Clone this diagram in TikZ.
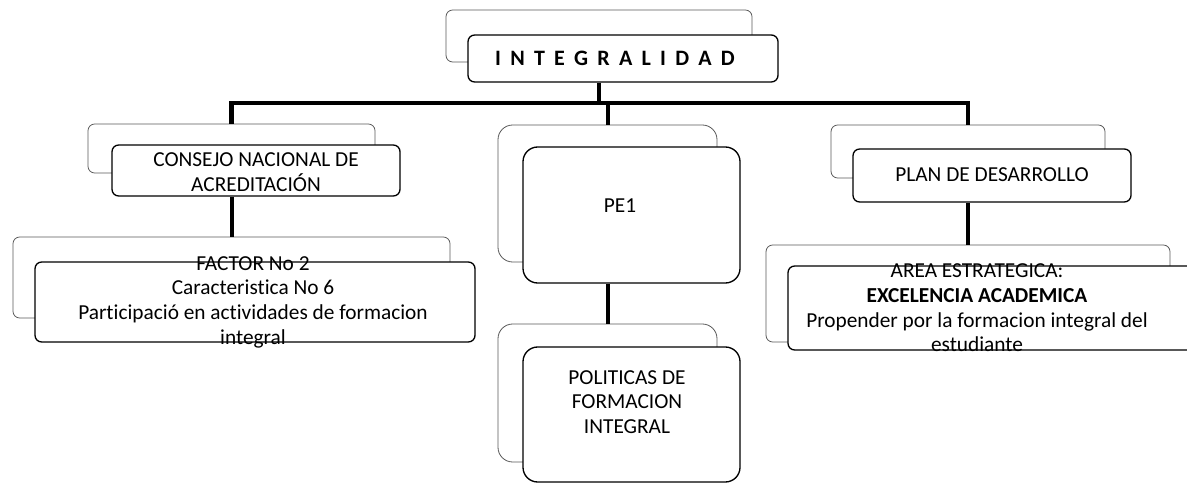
\documentclass[tikz,border=0pt]{standalone}
\usepackage{fontspec}
\setmainfont{Carlito}[Ligatures=NoCommon]
\usetikzlibrary{fit}
\newcommand\lsp{\hskip0.42em}
\begin{document}
\begin{tikzpicture}[x=0.75pt,y=-0.75pt,
  backbox/.style={draw=black!65, line width=0.6pt, fill=white, rounded corners=5pt, inner sep=0pt},
  frontbox/.style={draw=black, line width=1pt, fill=white, rounded corners=5pt, inner sep=0pt},
  bigr/.style={rounded corners=11pt},
  txt/.style={align=center, inner sep=0pt, font=\fontsize{16}{18.5}\selectfont},
  conn/.style={line width=3pt},
  barline/.style={line width=3.6pt}]
\useasboundingbox (0,0) rectangle (1187,484);

% top
\node[backbox, fit={(446,10)(752,62)}] (tb) {};
\node[frontbox, fit={(468,35)(778,82)}] (tf) {};
\node[txt, font=\fontsize{16.5}{18.5}\selectfont\bfseries] (tt) at (615,58) {I\lsp N\lsp T\lsp E\lsp G\lsp R\lsp A\lsp L\lsp I\lsp D\lsp A\lsp D};

% CONSEJO
\node[backbox, fit={(88,124)(375,173)}] (cb) {};
\node[frontbox, fit={(112,145)(400,196)}] (cf) {};
\node[txt] (ct) at (256,172) {CONSEJO NACIONAL DE\\ACREDITACIÓN};

% PE1
\node[backbox, bigr, fit={(498,125)(717,262)}] (pb) {};
\node[frontbox, bigr, fit={(523,147)(740,283)}] (pf) {};
\node[txt] (pt) at (620,206) {PE1};

% PLAN
\node[backbox, fit={(831,125)(1105,178)}] (lb) {};
\node[frontbox, fit={(853,149)(1131,202)}] (lf) {};
\node[txt] (lt) at (992,175) {PLAN DE DESARROLLO};

% FACTOR
\node[backbox, fit={(13,237)(450,318)}] (fb) {};
\node[frontbox, fit={(35,262)(475,342)}] (ff) {};
\node[txt] (ft) at (253,302) {FACTOR No 2\\Caracteristica No 6\\Participació en actividades de formacion\\integral};

% POLITICAS
\node[backbox, bigr, fit={(498,324)(717,462)}] (qb) {};
\node[frontbox, bigr, fit={(523,347)(740,482)}] (qf) {};
\node[txt] (qt) at (627,402) {POLITICAS DE\\FORMACION\\INTEGRAL};

% AREA
\node[backbox, fit={(766,245)(1170,342)}] (ab) {};
\node[frontbox, fit={(788,266)(1215,350)}] (af) {};
\node[txt] (at) at (977,308) {AREA ESTRATEGICA:\\\textbf{EXCELENCIA ACADEMICA}\\Propender por la formacion integral del\\estudiante};

% connectors
\coordinate (bl) at (cb.north |- 0,103);
\coordinate (br) at (lb.north |- 0,103);
\draw[barline] (cb.north) -- (bl) -- (br) -- (lb.north);
\draw[conn] (tb.south |- tf.south) -- (tb.south |- bl);
\draw[conn] (pb.north |- bl) -- (pb.north);
\draw[conn] (cb.south |- cf.south) -- (fb.north);
\draw[conn] (pb.south |- pf.south) -- (qb.north);
\draw[conn] (lb.south |- lf.south) -- (ab.north);
\end{tikzpicture}
\end{document}
